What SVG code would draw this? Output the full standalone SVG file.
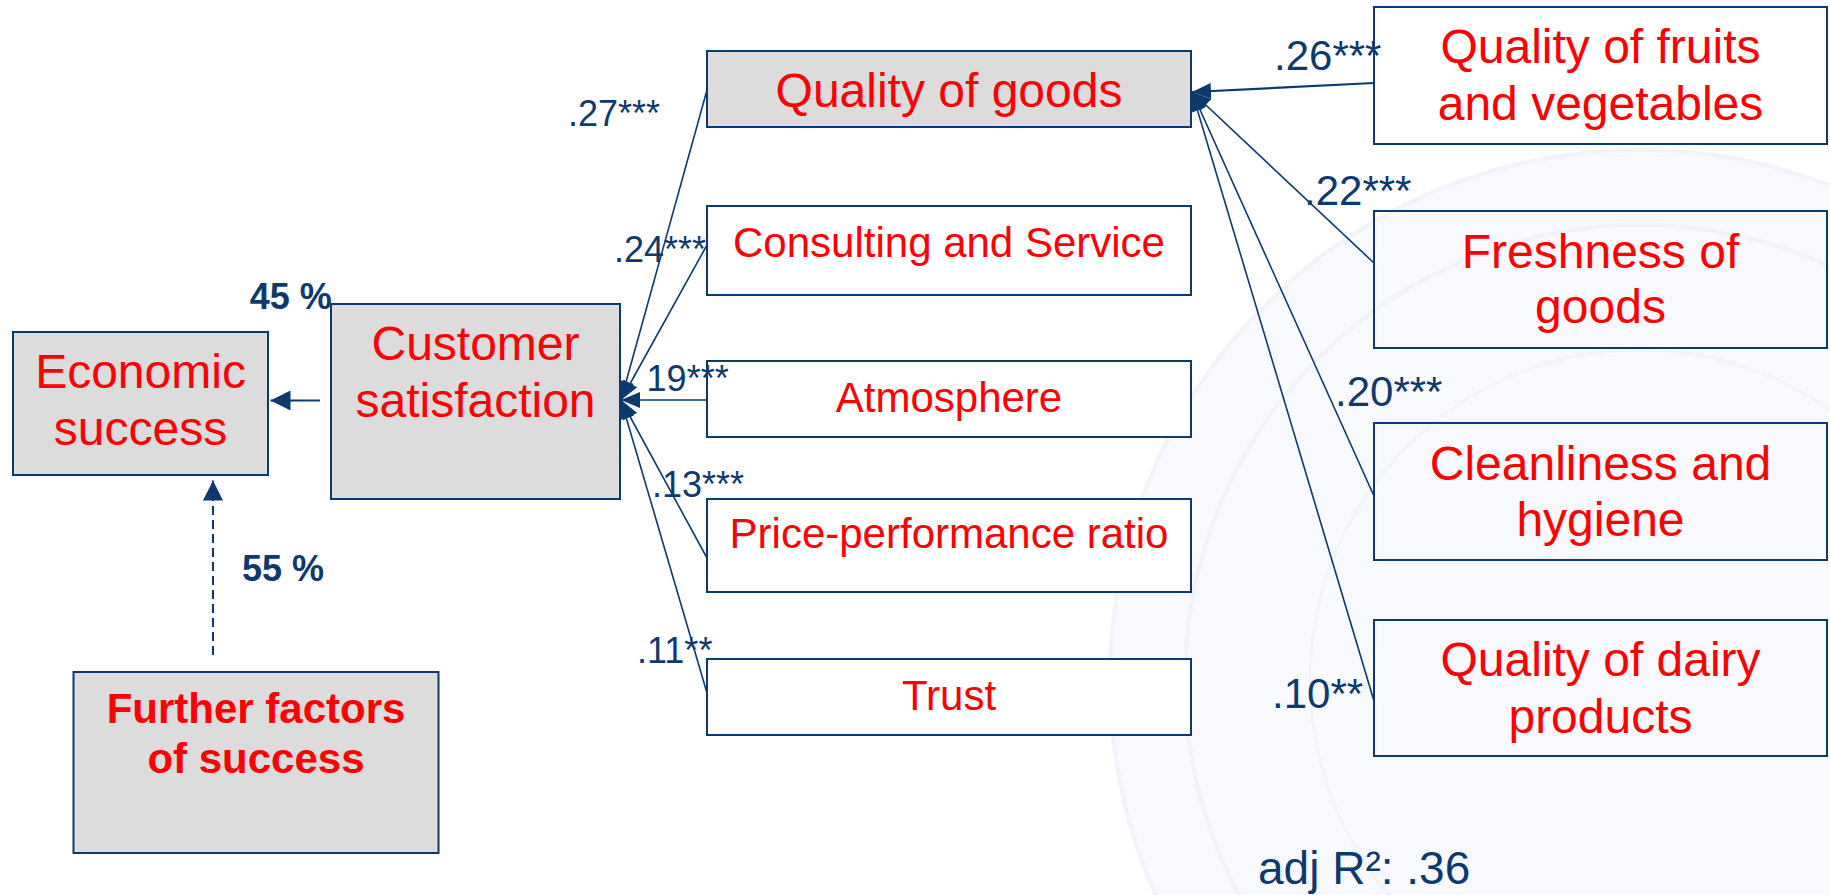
<svg xmlns="http://www.w3.org/2000/svg" width="1830" height="895" viewBox="0 0 1830 895">
<defs>
<style>
.box{stroke:#0d3a6e;stroke-width:2;fill:none}
.gray{fill:#dcdcdc}
.t{font-family:"Liberation Sans",Arial,sans-serif;fill:#ff0000;text-anchor:middle}
.big{font-size:48px}
.mid{font-size:42px}
.bold{font-weight:bold}
.lab{font-family:"Liberation Sans",Arial,sans-serif;fill:#0d3a6e}
.conn{stroke:#0d3a6e;stroke-width:1.6;fill:none}
</style>
<marker id="ah" markerUnits="userSpaceOnUse" markerWidth="20" markerHeight="16" refX="19" refY="8" orient="auto">
<path d="M0,0 L19,8 L0,16 z" fill="#0d3a6e"/>
</marker>
<marker id="ahb" markerUnits="userSpaceOnUse" markerWidth="21" markerHeight="20" refX="20" refY="10" orient="auto">
<path d="M0,0 L20,10 L0,20 z" fill="#0d3a6e"/>
</marker>
</defs>
<rect width="1830" height="895" fill="#ffffff"/>
<g id="watermark">
<circle cx="1640" cy="680" r="530" fill="#f8f9fc" stroke="#f1f3f8" stroke-width="4"/>
<circle cx="1640" cy="680" r="455" fill="none" stroke="#f0f2f7" stroke-width="4"/>
<circle cx="1640" cy="680" r="330" fill="none" stroke="#f1f3f8" stroke-width="3"/>
</g>
<g id="connectors">
<line class="conn" x1="707" y1="90" x2="621" y2="400" marker-end="url(#ah)"/>
<line class="conn" x1="707" y1="245" x2="621" y2="400" marker-end="url(#ah)"/>
<line class="conn" x1="707" y1="400" x2="621" y2="400" marker-end="url(#ah)"/>
<line class="conn" x1="707" y1="558" x2="621" y2="400" marker-end="url(#ah)"/>
<line class="conn" x1="707" y1="693" x2="621" y2="400" marker-end="url(#ah)"/>
<line class="conn" x1="1374" y1="83" x2="1192" y2="92" marker-end="url(#ah)" style="stroke-width:2.2"/>
<line class="conn" x1="1374" y1="263" x2="1192" y2="92" marker-end="url(#ah)"/>
<line class="conn" x1="1374" y1="496" x2="1192" y2="92" marker-end="url(#ah)"/>
<line class="conn" x1="1374" y1="701" x2="1192" y2="92" marker-end="url(#ah)"/>
<line class="conn" x1="320" y1="400.5" x2="270.5" y2="400.5" marker-end="url(#ahb)" style="stroke-width:2.2"/>
<line class="conn" x1="213" y1="655" x2="213" y2="480.5" marker-end="url(#ahb)" style="stroke-width:2;stroke-dasharray:9,5"/>
</g>
<g id="economic">
<rect class="box gray" x="13" y="332" width="255" height="143"/>
<text class="t big" x="140.5" y="388">Economic</text>
<text class="t big" x="140.5" y="445">success</text>
</g>
<g id="customer">
<rect class="box gray" x="331" y="304" width="289" height="195"/>
<text class="t big" x="475.5" y="360">Customer</text>
<text class="t big" x="475.5" y="417">satisfaction</text>
</g>
<g id="further">
<rect class="box gray" x="73.5" y="672" width="365" height="181"/>
<text class="t mid bold" x="256" y="723">Further factors</text>
<text class="t mid bold" x="256" y="773">of success</text>
</g>
<g id="quality-goods">
<rect class="box gray" x="707" y="51" width="484" height="76"/>
<text class="t big" x="949" y="106.7">Quality of goods</text>
</g>
<g id="consulting">
<rect class="box" x="707" y="206" width="484" height="89" style="fill:#fff"/>
<text class="t mid" x="949" y="256.7">Consulting and Service</text>
</g>
<g id="atmosphere">
<rect class="box" x="707" y="361" width="484" height="76" style="fill:#fff"/>
<text class="t mid" x="949" y="411.7">Atmosphere</text>
</g>
<g id="price">
<rect class="box" x="707" y="499" width="484" height="93" style="fill:#fff"/>
<text class="t mid" x="949" y="548">Price-performance ratio</text>
</g>
<g id="trust">
<rect class="box" x="707" y="659" width="484" height="76" style="fill:#fff"/>
<text class="t mid" x="949" y="709.7">Trust</text>
</g>
<g id="fruits">
<rect class="box" x="1374" y="7" width="453" height="137"/>
<text class="t big" x="1600.5" y="63.3">Quality of fruits</text>
<text class="t big" x="1600.5" y="120">and vegetables</text>
</g>
<g id="freshness">
<rect class="box" x="1374" y="211" width="453" height="137"/>
<text class="t big" x="1600.5" y="268.3">Freshness of</text>
<text class="t big" x="1600.5" y="323.3">goods</text>
</g>
<g id="cleanliness">
<rect class="box" x="1374" y="423" width="453" height="137"/>
<text class="t big" x="1600.5" y="479.7">Cleanliness and</text>
<text class="t big" x="1600.5" y="536.3">hygiene</text>
</g>
<g id="dairy">
<rect class="box" x="1374" y="620" width="453" height="136"/>
<text class="t big" x="1600.5" y="676.3">Quality of dairy</text>
<text class="t big" x="1600.5" y="733">products</text>
</g>
<g id="labels">
<text class="lab" x="249.7" y="309" font-size="36" font-weight="bold">45 %</text>
<text class="lab" x="242" y="580.7" font-size="36" font-weight="bold">55 %</text>
<text class="lab" x="568" y="126" font-size="36">.27***</text>
<text class="lab" x="614" y="261.7" font-size="36">.24***</text>
<text class="lab" x="646.6" y="390.7" font-size="36">19***</text>
<text class="lab" x="652" y="497.3" font-size="36">.13***</text>
<text class="lab" x="637" y="663" font-size="36">.11**</text>
<text class="lab" x="1274" y="70" font-size="42">.26***</text>
<text class="lab" x="1304" y="205" font-size="42">.22***</text>
<text class="lab" x="1335" y="406" font-size="42">.20***</text>
<text class="lab" x="1272" y="708" font-size="42">.10**</text>
<text class="lab" x="1258" y="884" font-size="46">adj R²: .36</text>
</g>
</svg>
